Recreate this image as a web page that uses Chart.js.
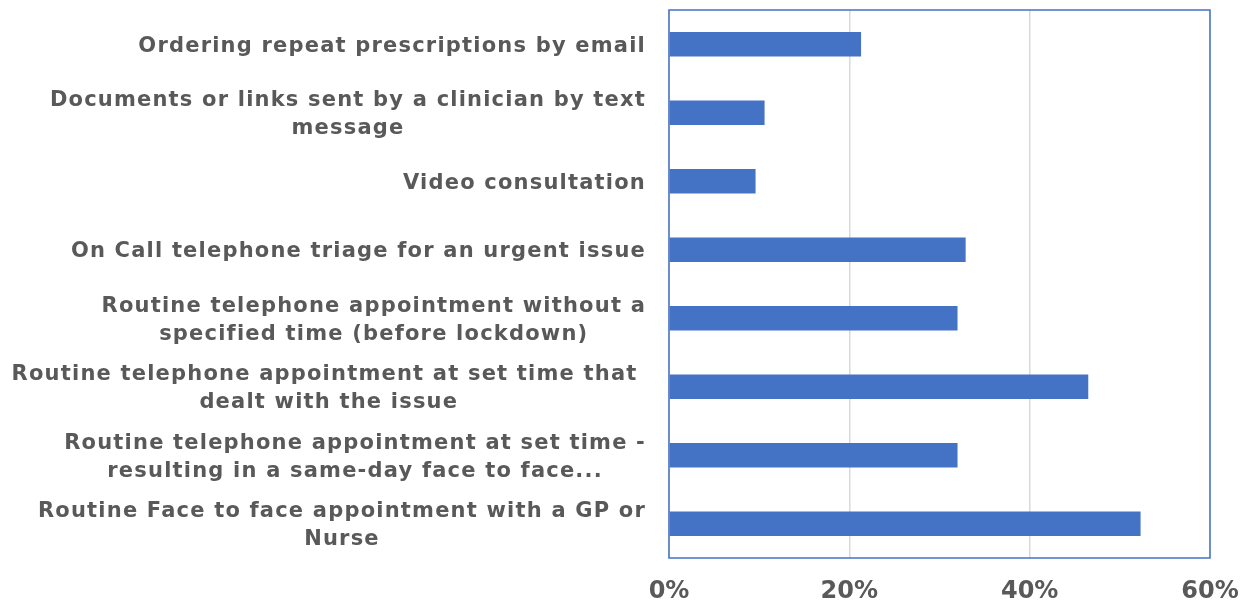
<!DOCTYPE html>
<html>
<head>
<meta charset="utf-8">
<script src="https://cdn.jsdelivr.net/npm/chart.js@4/dist/chart.umd.min.js"></script>
<style>
  html, body { margin: 0; padding: 0; background: #ffffff; }
  #wrap { width: 1252px; height: 605px; position: relative; }
</style>
</head>
<body>
<div id="wrap"><canvas id="c"></canvas></div>
<script>
const categories = [
  ["Ordering repeat prescriptions by email"],
  ["Documents or links sent by a clinician by text", "message"],
  ["Video consultation"],
  ["On Call telephone triage for an urgent issue"],
  ["Routine telephone appointment without a", "specified time (before lockdown)"],
  ["Routine telephone appointment at set time that ", "dealt with the issue"],
  ["Routine telephone appointment at set time -", "resulting in a same-day face to face..."],
  ["Routine Face to face appointment with a GP or", "Nurse"]
];
const values = [21.3, 10.6, 9.6, 32.9, 32.0, 46.5, 32.0, 52.3];
const xTicks = [0, 20, 40, 60];

const LABEL_FONT = 'bold 21px "DejaVu Sans", Verdana, sans-serif';
const LABEL_COLOR = '#595959';
const LINE_H = 28;

const labelPlugin = {
  id: 'centeredLabels',
  afterDraw(chart) {
    const ctx = chart.ctx;
    const ys = chart.scales.y;
    const area = chart.chartArea;
    ctx.save();
    ctx.strokeStyle = '#4472C4';
    ctx.lineWidth = 1.5;
    ctx.strokeRect(area.left, area.top, area.right - area.left, area.bottom - area.top);
    ctx.font = LABEL_FONT;
    ctx.letterSpacing = '1.2px';
    ctx.fillStyle = LABEL_COLOR;
    ctx.textAlign = 'center';
    ctx.textBaseline = 'middle';
    const rightEdge = area.left - 23;
    chart.data.labels.forEach((lines, i) => {
      const yc = ys.getPixelForValue(i) + 2;
      const widths = lines.map(l => ctx.measureText(l).width);
      const blockW = Math.max(...widths);
      const cx = rightEdge - blockW / 2;
      const y0 = yc - (lines.length - 1) * LINE_H / 2;
      lines.forEach((l, j) => ctx.fillText(l, cx, y0 + j * LINE_H));
    });
    ctx.restore();
  }
};

new Chart(document.getElementById('c'), {
  type: 'bar',
  data: {
    labels: categories,
    datasets: [{
      data: values,
      backgroundColor: '#4472C4',
      borderWidth: 0,
      barPercentage: 0.36,
      categoryPercentage: 1.0
    }]
  },
  options: {
    indexAxis: 'y',
    responsive: true,
    maintainAspectRatio: false,
    animation: false,
    layout: { padding: { top: 10, right: 42, bottom: 0, left: 0 } },
    plugins: { legend: { display: false }, tooltip: { enabled: false } },
    scales: {
      x: {
        min: 0, max: 60,
        afterBuildTicks(scale) { scale.ticks = xTicks.map(v => ({ value: v })); },
        afterFit(scale) { scale.height = 47; scale.paddingLeft = 0; scale.paddingRight = 0; },
        ticks: {
          callback: v => v + '%',
          color: '#595959',
          font: { family: '"DejaVu Sans", Verdana, sans-serif', size: 24, weight: 'bold' },
          padding: 19,
          maxRotation: 0
        },
        grid: { color: '#d9d9d9', lineWidth: 1.5, drawTicks: false },
        border: { display: false }
      },
      y: {
        afterFit(scale) { scale.width = 669; },
        ticks: { display: false },
        grid: { display: false, drawTicks: false },
        border: { display: false }
      }
    }
  },
  plugins: [labelPlugin]
});
</script>
</body>
</html>
